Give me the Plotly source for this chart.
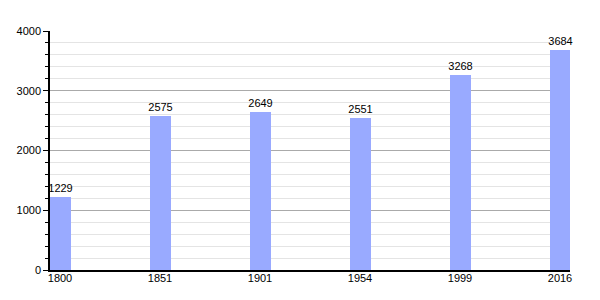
import plotly.graph_objects as go

years = ["1800", "1851", "1901", "1954", "1999", "2016"]
population = [1229, 2575, 2649, 2551, 3268, 3684]

pos = list(range(len(years)))
centers = [p + 0.1 for p in pos]

fig = go.Figure()
fig.add_trace(go.Bar(
    x=pos, y=population, offset=0, width=0.205,
    marker=dict(color="#99aaff", line=dict(width=0)),
    text=[str(v) for v in population], textposition="outside",
    constraintext="none",
    textfont=dict(color="black", size=11, family="Liberation Sans, Arial"),
    cliponaxis=False,
))
fig.update_layout(
    width=600, height=300,
    margin=dict(l=50, r=30, t=31, b=30),
    plot_bgcolor="white", paper_bgcolor="white",
    showlegend=False,
    font=dict(family="Liberation Sans, Arial", size=11, color="black"),
    bargap=0,
)
fig.update_xaxes(
    range=[0, 5.2], tickvals=centers, ticktext=years,
    showline=True, linecolor="black", linewidth=1.5,
    ticks="", showgrid=False, zeroline=False,
    ticklabelstandoff=-3,
    tickfont=dict(size=11, color="black"),
)
fig.update_yaxes(
    range=[0, 4000], dtick=1000, tick0=0,
    showline=True, linecolor="black", linewidth=1.5,
    ticks="outside", ticklen=5, tickcolor="black",
    showgrid=True, gridcolor="#aaaaaa", gridwidth=1,
    zeroline=False,
    tickfont=dict(size=11, color="black"),
    minor=dict(dtick=200, tick0=0, ticks="outside", ticklen=3, tickcolor="black",
               showgrid=True, gridcolor="#e4e4e4", gridwidth=1),
)
fig.write_html("out.html")
